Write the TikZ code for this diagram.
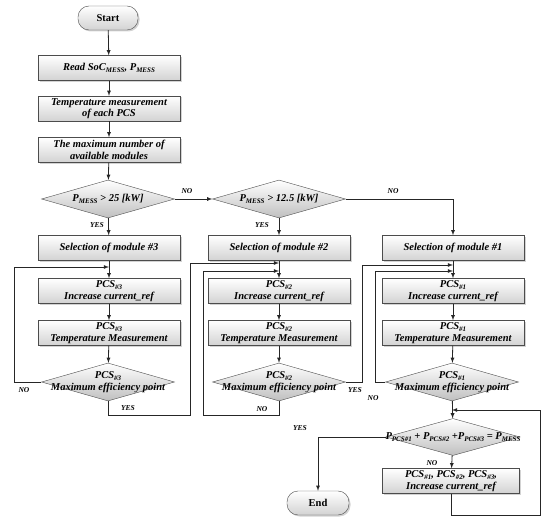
\documentclass[tikz,border=0pt]{standalone}
\usepackage{fontspec}
\setmainfont{Liberation Serif}
\usetikzlibrary{shapes.geometric,shadows}
\newcommand{\subtx}[1]{\raisebox{-0.3ex}{\scriptsize #1}}
\tikzset{
  txt/.style={font=\fontsize{10.5}{11.5}\selectfont\bfseries\itshape},
  box/.style={txt, draw=gray!60!black, top color=white, bottom color=gray!35,
    drop shadow={shadow xshift=1.5pt, shadow yshift=-1.5pt, opacity=0.35},
    minimum width=142pt, minimum height=25pt, inner sep=1pt, align=center},
  pill/.style={box, rounded corners=11pt, minimum width=60pt, minimum height=24pt,
    font=\fontsize{10.5}{11.5}\selectfont\bfseries},
  dia/.style={diamond, draw=gray!60!black, top color=white, bottom color=gray!50,
    minimum width=133pt, minimum height=38pt, inner sep=0pt},
  dlab/.style={label={[txt, align=center]center:#1}},
  lbl/.style={font=\fontsize{7.5}{9}\selectfont\bfseries\itshape},
  line/.style={draw=gray!30!black, thick},
  arr/.style={line, ->, >=latex}
}
\begin{document}
\begin{tikzpicture}[x=1pt,y=-1pt]
    \useasboundingbox (0,0) rectangle (550,524);

    % main column
    \node[pill] (start) at (108,18) {Start};
    \node[box] (read) at (109,68) {Read SoC\subtx{MESS}, P\subtx{MESS}};
    \node[box] (temp) at (109,108.5) {Temperature measurement\\of each PCS};
    \node[box] (maxn) at (109,150) {The maximum number of\\available modules};
    \node[dia, dlab={P\subtx{MESS} > 25 [kW]}] (d1) at (108,199) {};
    \node[box] (sel3) at (109,248) {Selection of module \#3};
    \node[box] (inc3) at (109,291) {PCS\subtx{\#3}\\Increase current\_ref};
    \node[box] (tm3) at (109,333) {PCS\subtx{\#3}\\Temperature Measurement};
    \node[dia, dlab={PCS\subtx{\#3}\\Maximum efficiency point}] (e3) at (108,382) {};

    % second column
    \node[dia, dlab={P\subtx{MESS} > 12.5 [kW]}] (d2) at (279,199) {};
    \node[box] (sel2) at (279,248) {Selection of module \#2};
    \node[box] (inc2) at (279,291) {PCS\subtx{\#2}\\Increase current\_ref};
    \node[box] (tm2) at (279,333) {PCS\subtx{\#2}\\Temperature Measurement};
    \node[dia, dlab={PCS\subtx{\#2}\\Maximum efficiency point}] (e2) at (279,382) {};

    % third column
    \node[box] (sel1) at (453,248) {Selection of module \#1};
    \node[box] (inc1) at (453,291) {PCS\subtx{\#1}\\Increase current\_ref};
    \node[box] (tm1) at (453,333) {PCS\subtx{\#1}\\Temperature Measurement};
    \node[dia, dlab={PCS\subtx{\#1}\\Maximum efficiency point}] (e1) at (452,382) {};
    \node[dia, minimum width=134pt, minimum height=37pt,
      dlab={P\subtx{PCS\#1} + P\subtx{PCS\#2} +P\subtx{PCS\#3} = P\subtx{MESS}}] (d4) at (453,437) {};
    \node[box, minimum width=137pt] (incall) at (451,481) {PCS\subtx{\#1}, PCS\subtx{\#2}, PCS\subtx{\#3},\\Increase current\_ref};
    \node[pill, minimum width=62pt] (end) at (318,503) {End};

    % joints
    \coordinate (j3) at (109,267);
    \coordinate (j2a) at (279,263);
    \coordinate (j2b) at (279,271);
    \coordinate (j1a) at (453,265);
    \coordinate (j1b) at (453,271);
    \coordinate (j4) at (452,410);

    % connectors
    \draw[arr] (start) -- (read);
    \draw[arr] (read) -- (temp);
    \draw[arr] (temp) -- (maxn);
    \draw[arr] (maxn) -- (d1);
    \draw[arr] (d1) -- (sel3);
    \draw[arr] (d1.east) -- (d2.west);
    \draw[arr] (d2) -- (sel2);
    \draw[arr] (d2.east) -| (sel1.north);
    \draw[line] (sel3) -- (j3);
    \draw[arr] (j3) -- (inc3);
    \draw[arr] (inc3) -- (tm3);
    \draw[arr] (tm3) -- (e3);
    \draw[line] (sel2) -- (j2b);
    \draw[arr] (j2b) -- (inc2);
    \draw[arr] (inc2) -- (tm2);
    \draw[arr] (tm2) -- (e2);
    \draw[line] (sel1) -- (j1b);
    \draw[arr] (j1b) -- (inc1);
    \draw[arr] (inc1) -- (tm1);
    \draw[arr] (tm1) -- (e1);
    \draw[arr] (e1) -- (d4);
    \draw[arr] (d4) -- (incall);

    % loops
    \draw[arr] (e3.west) -- (14,382) |- (j3);
    \draw[arr] (e3.south) -- (108,415) -| (190,263) -- (j2a);
    \draw[arr] (e2.south) -- (279,415) -| (203,271) -- (j2b);
    \draw[arr] (e2.east) -- (362,382) |- (j1a);
    \draw[arr] (e1.west) -- (375,382) |- (j1b);
    \draw[arr] (incall.south) -- (451,515) -| (540,410) -- (j4);
    \draw[arr] (d4.west) -| (end.north);

    % labels
    \node[lbl] (no1) at (187,191) {NO};
    \node[lbl] (yes1) at (97,225) {YES};
    \node[lbl] (no3) at (24,390) {NO};
    \node[lbl] (yes3) at (128,408) {YES};
    \node[lbl] (no2) at (393,191) {NO};
    \node[lbl] (yes2) at (262,225) {YES};
    \node[lbl] (no2b) at (262,409) {NO};
    \node[lbl] (yes2b) at (355,390) {YES};
    \node[lbl] (no1b) at (373,398) {NO};
    \node[lbl] (yes4) at (300,428) {YES};
    \node[lbl] (no4) at (432,463) {NO};
\end{tikzpicture}
\end{document}
